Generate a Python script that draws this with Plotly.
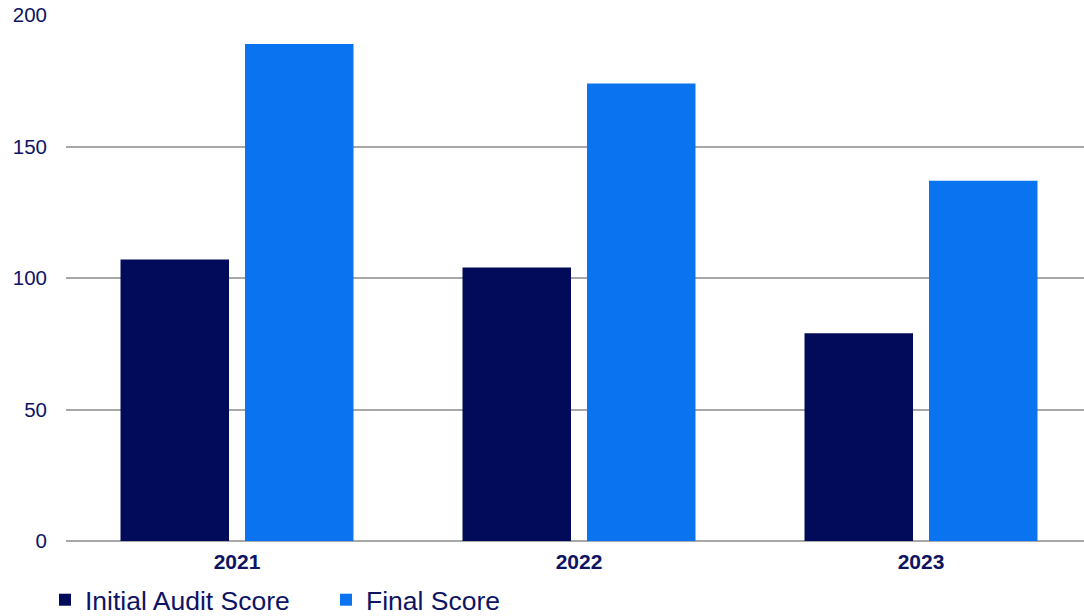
import plotly.graph_objects as go

years = ["2021", "2022", "2023"]
initial_audit = [107, 104, 79]
final_score = [189, 174, 137]
y_ticks = [0, 50, 100, 150, 200]

navy_text = "#0E1464"
fig = go.Figure()
fig.add_trace(go.Bar(name="Initial Audit Score", x=years, y=initial_audit,
                     marker_color="#010B5A", marker_line_width=0))
fig.add_trace(go.Bar(name="Final Score", x=years, y=final_score,
                     marker_color="#0A73F0", marker_line_width=0))

fig.update_layout(
    width=1084, height=616,
    margin=dict(l=66, r=0, t=15, b=75),
    paper_bgcolor="white", plot_bgcolor="white",
    barmode="group", bargap=0.272, bargroupgap=0.1285,
    font=dict(family="Liberation Sans, Arial, sans-serif", color=navy_text, size=20),
    showlegend=True,
    legend=dict(orientation="h", xref="container", yref="container",
                x=45/1084, xanchor="left", y=16/616, yanchor="middle",
                font=dict(size=26.5, color=navy_text), entrywidth=236,
                itemwidth=30, traceorder="normal"),
    xaxis=dict(type="category", range=[-0.5, 2.5 - 8/342], showgrid=False,
               showline=False, zeroline=False, ticklabelstandoff=6,
               tickfont=dict(size=21, color=navy_text, weight="bold")),
    yaxis=dict(range=[0, 200], tickvals=y_ticks, showgrid=True,
               gridcolor="#A8A8A8", gridwidth=1.5, zeroline=True,
               zerolinecolor="#A8A8A8", zerolinewidth=1.5,
               ticklabelstandoff=18,
               tickfont=dict(size=20.5, color=navy_text)),
)

fig.write_html("out.html")
